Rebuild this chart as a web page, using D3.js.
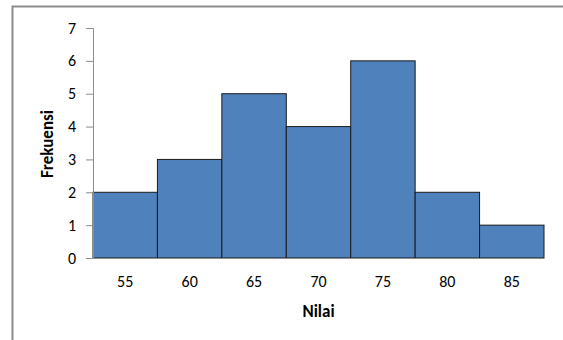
<!DOCTYPE html>
<html><head><meta charset="utf-8">
<script src="https://cdn.jsdelivr.net/npm/d3@7"></script>
<style>body{margin:0;background:#fff;}svg{display:block;}</style>
</head><body>
<script>
const categories = ["55","60","65","70","75","80","85"];
const frequencies = [2,3,5,4,6,2,1];
const yTicks = [0,1,2,3,4,5,6,7];
const xTitle = "Nilai";
const yTitle = "Frekuensi";

(function(){
const W = 563, H = 340;
const svg = d3.select("body").append("svg").attr("width", W).attr("height", H);
const font = "Carlito, Lato, 'Liberation Sans', sans-serif";

// outer frame
svg.append("path").attr("d", "M12.5,340 V6.5 H563").attr("fill","none").attr("stroke","#8c8c8c").attr("stroke-width",2);

const mL = 93, mR = 544, mT = 28, mB = 258;
const x = d3.scaleBand().domain(categories).range([mL, mR]).padding(0);
const y = d3.scaleLinear().domain([0,7]).range([mB, mT]);

// bars
svg.append("g").selectAll("rect").data(categories).join("rect")
  .attr("x", d => x(d)).attr("y", (d,i) => y(frequencies[i]))
  .attr("width", x.bandwidth()).attr("height", (d,i) => y(0) - y(frequencies[i]))
  .attr("fill", "#4f81bd").attr("stroke", "#1a1a1a").attr("stroke-width", 1);

// y axis
const ya = svg.append("g").attr("transform", `translate(${mL},0)`)
  .call(d3.axisLeft(y).tickValues(yTicks).tickSize(7).tickPadding(10).tickFormat(d3.format("d")));
ya.select(".domain").attr("stroke", "#8c8c8c").attr("d", `M-7,${mT+0.5}H0.5V${mB}`);
ya.selectAll(".tick line").attr("stroke", "#8c8c8c");
ya.selectAll("text").attr("font-family", font).attr("font-size", 16).attr("fill", "#000");

// x axis
const xa = svg.append("g").attr("transform", `translate(0,${mB})`)
  .call(d3.axisBottom(x).tickSize(0).tickPadding(18));
xa.select(".domain").attr("stroke", "#8c8c8c").attr("d", `M${mL},0.5H${mR}`);
xa.selectAll("text").attr("font-family", font).attr("font-size", 16).attr("fill", "#000");

// titles
svg.append("text").attr("x", (mL+mR)/2).attr("y", 317).attr("text-anchor","middle")
  .attr("font-family", font).attr("font-size", 17).attr("font-weight","bold").text(xTitle);
svg.append("text").attr("transform", `translate(53,${(mT+mB)/2+1}) rotate(-90)`).attr("text-anchor","middle")
  .attr("font-family", font).attr("font-size", 17).attr("font-weight","bold").text(yTitle);
})();
</script>
</body></html>
